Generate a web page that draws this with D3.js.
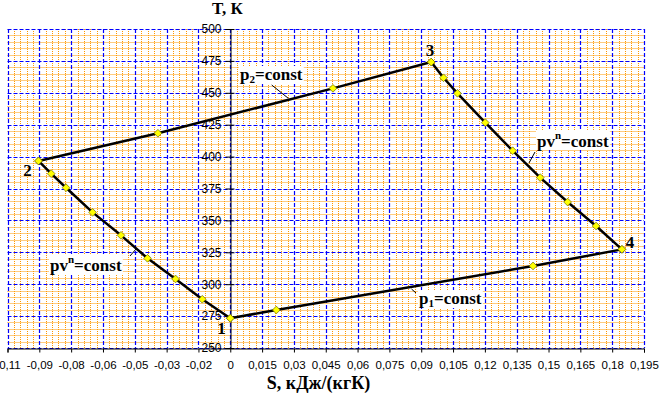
<!DOCTYPE html>
<html lang="ru">
<head>
<meta charset="UTF-8">
<title>T-S</title>
<script src="https://cdn.jsdelivr.net/npm/d3@7"></script>
<style>
body { margin: 0; background: #fff; }
svg { display: block; }
</style>
</head>
<body>
<script>

var w = 661;
var h = 397;

// process 1-4, p1 = const
var s14 = [0, 0.0217, 0.1427, 0.1846];
var t14 = [273.3, 279.8, 314.3, 327.3];
// process 4-3, pv^n = const
var s43 = [0.1846, 0.1724, 0.159, 0.1461, 0.1331, 0.1202, 0.1071, 0.1005, 0.0947];
var t43 = [327.3, 345.6, 364.4, 383.5, 404.6, 426.6, 449.6, 461.8, 474.1];
// process 3-2, p2 = const
var s32 = [0.0947, 0.0484, -0.0341, -0.0904];
var t32 = [474.1, 453.5, 418.3, 396.6];
// process 2-1, pv^n = const
var s21 = [-0.0904, -0.0844, -0.0774, -0.0649, -0.0515, -0.039, -0.0258, -0.0132, 0];
var t21 = [396.6, 386.6, 375.6, 356.3, 338.3, 320.3, 304.1, 288.2, 273.3];

var xTicks = d3.range(0, 21).map(function(i) { return -0.105 + i * 0.015; });
var xTickLabels = ["-0,11", "-0,09", "-0,08", "-0,06", "-0,05", "-0,03", "-0,02", "0",
    "0,015", "0,03", "0,045", "0,06", "0,075", "0,09", "0,105", "0,12", "0,135",
    "0,15", "0,165", "0,18", "0,195"];
var yTicks = [250, 275, 300, 325, 350, 375, 400, 425, 450, 475, 500];

var x = d3.scaleLinear().domain([-0.105, 0.195]).range([7.5, 644]);
var y = d3.scaleLinear().domain([250, 500]).range([348, 29]);

var svg = d3.select("body").append("svg")
    .attr("width", w)
    .attr("height", h);

function px(v) { return Math.round(v) + 0.5; }

// minor grid (orange dotted), skipping the major positions
var grid = svg.append("g");
var minorX = d3.range(0, 101).filter(function(i) { return i % 5; })
    .map(function(i) { return -0.105 + i * 0.003; });
var minorY = d3.range(0, 51).filter(function(i) { return i % 5; })
    .map(function(i) { return 250 + i * 5; });

grid.selectAll("line.mx").data(minorX).enter().append("line")
    .attr("x1", function(d) { return px(x(d)); })
    .attr("x2", function(d) { return px(x(d)); })
    .attr("y1", y(500)).attr("y2", y(250))
    .attr("stroke", "#ff9900").attr("stroke-width", 1)
    .attr("stroke-dasharray", "1,1");

grid.selectAll("line.my").data(minorY).enter().append("line")
    .attr("y1", function(d) { return px(y(d)); })
    .attr("y2", function(d) { return px(y(d)); })
    .attr("x1", x(-0.105)).attr("x2", x(0.195))
    .attr("stroke", "#ff9900").attr("stroke-width", 1)
    .attr("stroke-dasharray", "1,1");

// major grid (blue dashed)
grid.selectAll("line.gx").data(xTicks).enter().append("line")
    .attr("x1", function(d) { return px(x(d)); })
    .attr("x2", function(d) { return px(x(d)); })
    .attr("y1", y(500)).attr("y2", y(250))
    .attr("stroke", "#0000ff").attr("stroke-width", 1.2)
    .attr("stroke-dasharray", "4,2");

grid.selectAll("line.gy").data(yTicks).enter().append("line")
    .attr("y1", function(d) { return px(y(d)); })
    .attr("y2", function(d) { return px(y(d)); })
    .attr("x1", x(-0.105)).attr("x2", x(0.195))
    .attr("stroke", "#0000ff").attr("stroke-width", 1.2)
    .attr("stroke-dasharray", "4,2");

// x axis
var xAxis = d3.axisBottom(x)
    .tickValues(xTicks)
    .tickSize(4)
    .tickPadding(8)
    .tickFormat(function(d, i) { return xTickLabels[i]; });

var gx = svg.append("g")
    .attr("transform", "translate(0," + px(y(250)) + ")")
    .call(xAxis);
gx.select(".domain").attr("stroke", "#000");
gx.selectAll("text")
    .attr("font-family", "Liberation Sans, Arial, sans-serif")
    .attr("font-size", "11.5px")
    .attr("fill", "#000");

// y axis at S = 0
var yAxis = d3.axisLeft(y)
    .tickValues(yTicks)
    .tickSize(5)
    .tickPadding(4)
    .tickFormat(d3.format("d"));

var gy = svg.append("g")
    .attr("transform", "translate(" + px(x(0)) + ",0)")
    .call(yAxis);
gy.select(".domain").attr("stroke", "#000");
gy.selectAll(".tick line").attr("x2", 4).attr("x1", -5);
gy.selectAll("text")
    .attr("font-family", "Liberation Sans, Arial, sans-serif")
    .attr("font-size", "12px")
    .attr("fill", "#000");

// cycle
var procS = [s14, s43, s32, s21];
var procT = [t14, t43, t32, t21];
var line = d3.line()
    .x(function(d) { return x(d[0]); })
    .y(function(d) { return y(d[1]); });

var pts = [];
procS.forEach(function(s, k) {
    var seg = s.map(function(v, i) { return [v, procT[k][i]]; });
    svg.append("path")
        .datum(seg)
        .attr("d", line)
        .attr("fill", "none")
        .attr("stroke", "#000")
        .attr("stroke-width", 2.5)
        .attr("stroke-linejoin", "round");
    pts = pts.concat(seg);
});

svg.selectAll("path.mark").data(pts).enter().append("path")
    .attr("d", d3.symbol().type(d3.symbolDiamond2).size(38))
    .attr("transform", function(d) { return "translate(" + x(d[0]) + "," + y(d[1]) + ")"; })
    .attr("fill", "#ffff00")
    .attr("stroke", "#6b6b00")
    .attr("stroke-width", 0.7);

// leader lines
var leaders = [[271.7, 85, 288.3, 98.3], [535, 152, 529, 163], [130, 256, 136, 249], [411.5, 289, 416, 293]];
svg.selectAll("line.lead").data(leaders).enter().append("line")
    .attr("x1", function(d) { return d[0]; })
    .attr("y1", function(d) { return d[1]; })
    .attr("x2", function(d) { return d[2]; })
    .attr("y2", function(d) { return d[3]; })
    .attr("stroke", "#000").attr("stroke-width", 1);

// process labels with white backing
var serif = "Liberation Serif, Times New Roman, serif";
function procLabel(px0, py0, parts) {
    var g = svg.append("g");
    var bg = g.append("rect").attr("fill", "#fff");
    var t = g.append("text")
        .attr("x", px0).attr("y", py0)
        .attr("font-family", serif)
        .attr("font-weight", "bold")
        .attr("font-size", "17px")
        .attr("fill", "#000");
    parts.forEach(function(p) {
        var ts = t.append("tspan").text(p.t);
        if (p.sub) ts.attr("font-size", "11px").attr("dy", 3);
        if (p.sup) ts.attr("font-size", "11px").attr("dy", -8);
        if (p.back) ts.attr("dy", p.back);
    });
    var b = t.node().getBBox();
    bg.attr("x", b.x - 1).attr("y", b.y + 1).attr("width", b.width + 2).attr("height", b.height - 2);
}

procLabel(240, 80, [{t: "p"}, {t: "2", sub: true}, {t: "=const", back: -3}]);
procLabel(537, 147, [{t: "pv"}, {t: "n", sup: true}, {t: "=const", back: 8}]);
procLabel(50, 271, [{t: "pv"}, {t: "n", sup: true}, {t: "=const", back: 8}]);
procLabel(419, 304, [{t: "p"}, {t: "1", sub: true}, {t: "=const", back: -3}]);

// state point numbers
var stateNames = ["1", "2", "3", "4"];
var stateX = [221.5, 27.5, 430, 630];
var stateY = [334, 176, 56, 248];
svg.selectAll("text.state").data(stateNames).enter().append("text")
    .attr("x", function(d, i) { return stateX[i]; })
    .attr("y", function(d, i) { return stateY[i]; })
    .attr("text-anchor", "middle")
    .attr("font-family", serif)
    .attr("font-weight", "bold")
    .attr("font-size", "17px")
    .text(function(d) { return d; });

// axis titles
svg.append("text")
    .attr("x", 212).attr("y", 14)
    .attr("font-family", serif)
    .attr("font-weight", "bold")
    .attr("font-size", "17px")
    .text("T, К");

svg.append("text")
    .attr("x", 318.5).attr("y", 389)
    .attr("text-anchor", "middle")
    .attr("font-family", serif)
    .attr("font-weight", "bold")
    .attr("font-size", "18px")
    .text("S, кДж/(кгК)");

</script>
</body>
</html>
